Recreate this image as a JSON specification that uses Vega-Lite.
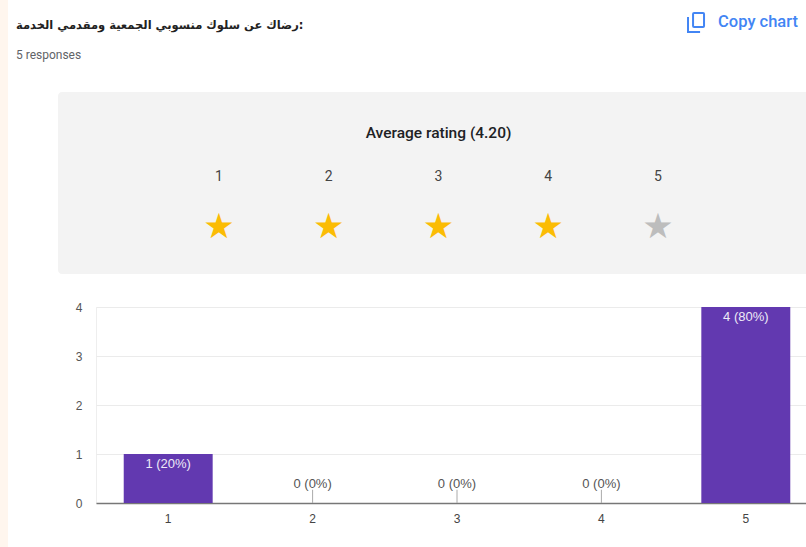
{
"$schema":"https://vega.github.io/schema/vega-lite/v6.json",
"padding":0,"background":"white","spacing":0,
"config":{"view":{"stroke":null},"font":"Roboto"},
"datasets":{"stars":[{"rating":1,"state":"on"},{"rating":2,"state":"on"},{"rating":3,"state":"on"},{"rating":4,"state":"on"},{"rating":5,"state":"off"}],"one":[{"t":"x"}]},
"hconcat":[
{"width":8,"height":547,"view":{"fill":"#fff6ee","stroke":null},"data":{"values":[{"t":""}]},"mark":{"type":"text"},"encoding":{"text":{"field":"t"}}},
{"vconcat":[
{"width":710,"height":274,
"layer":[
{"data":{"name":"one"},"mark":{"type":"rect","color":"#f3f3f3","cornerRadius":4},
"encoding":{"x":{"datum":-0.467,"type":"quantitative","scale":{"domain":[-0.1207,6.348],"nice":false,"zero":false},"axis":null},"x2":{"datum":6.4},"y":{"datum":92,"type":"quantitative","scale":{"domain":[0,274],"reverse":true,"nice":false,"zero":false},"axis":null},"y2":{"datum":274}}},
{"data":{"values":[{"t":"رضاك عن سلوك منسوبي الجمعية ومقدمي الخدمة:"}]},"mark":{"type":"text","align":"left","baseline":"middle","font":"DejaVu Sans","fontWeight":"bold","fontSize":11.5,"color":"#222222"},
"encoding":{"x":{"datum":-0.85,"type":"quantitative","axis":null},"y":{"datum":26,"type":"quantitative","axis":null},"text":{"field":"t"}}},
{"data":{"values":[{"t":"5 responses"}]},"mark":{"type":"text","align":"left","baseline":"middle","fontSize":12,"color":"#5f6368"},
"encoding":{"x":{"datum":-0.85,"type":"quantitative","axis":null},"y":{"datum":55,"type":"quantitative","axis":null},"text":{"field":"t"}}},
{"data":{"values":[{"t":"Copy chart"}]},"mark":{"type":"text","align":"left","baseline":"middle","fontSize":16.5,"fontWeight":500,"color":"#4285f4"},
"encoding":{"x":{"datum":5.547,"type":"quantitative","axis":null},"y":{"datum":22,"type":"quantitative","axis":null},"text":{"field":"t"}}},
{"data":{"name":"one"},"mark":{"type":"rect","fill":null,"stroke":"#4285f4","strokeWidth":2,"cornerRadius":1},
"encoding":{"x":{"datum":5.319,"type":"quantitative","axis":null},"x2":{"datum":5.419},"y":{"datum":13,"type":"quantitative","axis":null},"y2":{"datum":27}}},
{"data":{"name":"one"},"mark":{"type":"rect","color":"#4285f4"},
"encoding":{"x":{"datum":5.264,"type":"quantitative","axis":null},"x2":{"datum":5.282},"y":{"datum":17,"type":"quantitative","axis":null},"y2":{"datum":33}}},
{"data":{"name":"one"},"mark":{"type":"rect","color":"#4285f4"},
"encoding":{"x":{"datum":5.264,"type":"quantitative","axis":null},"x2":{"datum":5.383},"y":{"datum":31,"type":"quantitative","axis":null},"y2":{"datum":33}}},
{"data":{"values":[{"t":"Average rating (4.20)"}]},"mark":{"type":"text","baseline":"middle","fontSize":15.5,"fontWeight":500,"color":"#202124"},
"encoding":{"x":{"datum":3,"type":"quantitative","axis":null},"y":{"datum":133,"type":"quantitative","axis":null},"text":{"field":"t"}}},
{"data":{"name":"stars"},"mark":{"type":"text","baseline":"middle","fontSize":14,"color":"#444444"},
"encoding":{"x":{"field":"rating","type":"quantitative","axis":null},"y":{"datum":177,"type":"quantitative","axis":null},"text":{"field":"rating"}}},
{"data":{"name":"stars"},"transform":[{"filter":"datum.rating > 0"}],"mark":{"type":"text","text":"★","font":"DejaVu Sans","baseline":"middle","fontSize":35},
"encoding":{"x":{"field":"rating","type":"quantitative","axis":null},"y":{"datum":227,"type":"quantitative","axis":null},"color":{"field":"state","type":"nominal","scale":{"domain":["on","off"],"range":["#fbbc04","#bdbdbd"]},"legend":null}}}
]},
{"width":710,"height":196,"view":{"stroke":"#eeeeee"},
"data":{"values":[{"rating":"1","count":1,"label":"1 (20%)","leader":0},{"rating":"2","count":0,"label":"0 (0%)","leader":0.27},{"rating":"3","count":0,"label":"0 (0%)","leader":0.27},{"rating":"4","count":0,"label":"0 (0%)","leader":0.27},{"rating":"5","count":4,"label":"4 (80%)","leader":0}]},
"encoding":{"x":{"field":"rating","type":"ordinal","title":null,"scale":{"type":"band","range":[0,722],"paddingInner":0.384,"paddingOuter":0.192},"axis":{"labelAngle":0,"ticks":false,"labelPadding":10,"labelFontSize":12,"labelFont":"Liberation Sans","labelColor":"#444444","domainColor":"#777777","domainWidth":1.5,"grid":false}}},
"layer":[
{"mark":{"type":"bar","color":"#6239b0"},"encoding":{"y":{"field":"count","type":"quantitative","title":null,"scale":{"domain":[0,4],"nice":false},"axis":{"values":[0,0.5,1,1.5,2,2.5,3,3.5,4],"labelExpr":"datum.value % 1 == 0 ? format(datum.value,'d') : ''","ticks":false,"domain":false,"labelPadding":14,"labelFontSize":12,"labelFont":"Liberation Sans","labelColor":"#555555","minExtent":87,"maxExtent":87,"grid":true,"gridColor":{"condition":{"test":"datum.value % 1 == 0","value":"#ebebeb"},"value":"#f0f0f0"}}}}},
{"transform":[{"filter":"datum.count == 0"}],"mark":{"type":"rule","color":"#aaaaaa"},"encoding":{"y":{"field":"count","type":"quantitative"},"y2":{"field":"leader"}}},
{"transform":[{"filter":"datum.count > 0"}],"mark":{"type":"text","baseline":"top","dy":4,"fontSize":13,"font":"Liberation Sans","color":"#eeeaf7"},"encoding":{"y":{"field":"count","type":"quantitative"},"text":{"field":"label"}}},
{"transform":[{"filter":"datum.count == 0"}],"mark":{"type":"text","baseline":"bottom","dy":-12,"fontSize":13,"font":"Liberation Sans","color":"#555555"},"encoding":{"y":{"field":"count","type":"quantitative"},"text":{"field":"label"}}}
]}
],"spacing":26}
]}
